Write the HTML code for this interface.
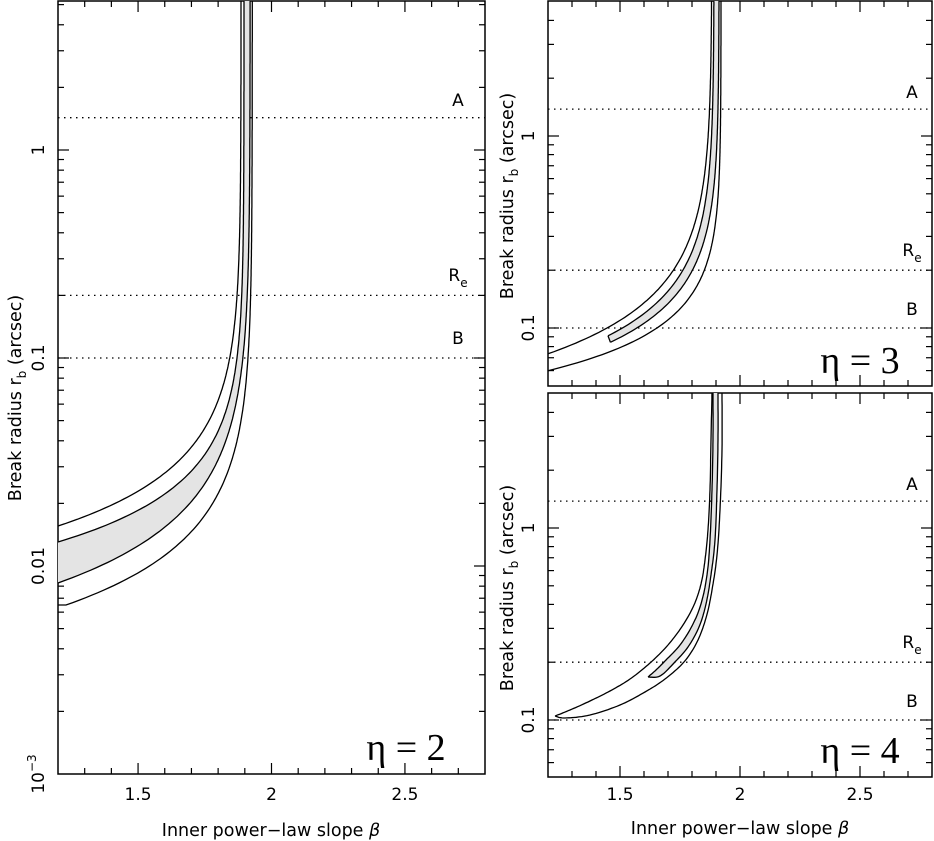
<!DOCTYPE html>
<html><head><meta charset="utf-8"><style>
html,body{margin:0;padding:0;background:#fff;}
svg{display:block;}
text{font-family:"DejaVu Sans","Liberation Sans",sans-serif;fill:#000;}
.eta{font-family:"Liberation Serif","DejaVu Serif",serif;}
</style></head><body>
<svg id="s" width="934" height="841" viewBox="0 0 934 841" xmlns="http://www.w3.org/2000/svg"></svg>
<script>
const S=document.getElementById('s');
let h='';
const panels=[
 {x0:58,x1:485,y0:1,y1:774,Y1:150,D:208},
 {x0:548,x1:932,y0:1,y1:386,Y1:136,D:192},
 {x0:548,x1:932,y0:393,y1:777,Y1:528,D:192}
];
function X(p,b){return p.x0+(b-1.2)*(p.x1-p.x0)/1.6;}
function Yr(p,r){return p.Y1-p.D*Math.log10(r);}
function curve(p,b0,b1,y1,b2,y2,start){
  const K=(y1-y2)/Math.log10((b0-b1)/(b0-b2));
  const pts=[];
  const n=300;
  for(let i=0;i<=n;i++){
    const t=i/n;
    const d=(b0-start)*Math.pow(1e-5/(b0-start),t);
    const b=b0-d;
    let y=y2+K*Math.log10(d/(b0-b2));
    if(y<p.y0){pts.push([X(p,b0),p.y0]);break;}
    pts.push([X(p,b),y]);
  }
  return pts;
}
function smooth(pts){
  const out=[];
  for(let i=0;i<pts.length-1;i++){
    const p0=pts[Math.max(0,i-1)],p1=pts[i],p2=pts[i+1],p3=pts[Math.min(pts.length-1,i+2)];
    for(let j=0;j<10;j++){const t=j/10,t2=t*t,t3=t2*t;
      const f=(a,b,c,d)=>0.5*((2*b)+(-a+c)*t+(2*a-5*b+4*c-d)*t2+(-a+3*b-3*c+d)*t3);
      out.push([f(p0[0],p1[0],p2[0],p3[0]),f(p0[1],p1[1],p2[1],p3[1])]);}
  }
  out.push(pts[pts.length-1]);return out;
}
function pstr(pts){return pts.map(q=>q[0].toFixed(1)+','+q[1].toFixed(1)).join(' ');}
function line(pts){h+=`<polyline points="${pstr(pts)}" fill="none" stroke="#000" stroke-width="1.3"/>`;}
function fill(a,b){h+=`<polygon points="${pstr(a.concat(b.slice().reverse()))}" fill="#e4e4e4" stroke="none"/>`;}
function frame(p,lo,hi){
  h+=`<rect x="${p.x0}" y="${p.y0}" width="${p.x1-p.x0}" height="${p.y1-p.y0}" fill="none" stroke="#000" stroke-width="1.5"/>`;
  for(let i=1;i<16;i++){const b=1.2+i*0.1;const x=X(p,b);const L=(i==3||i==8||i==13)?11:6;
    h+=`<line x1="${x}" y1="${p.y1}" x2="${x}" y2="${p.y1-L}" stroke="#000" stroke-width="1.2"/><line x1="${x}" y1="${p.y0}" x2="${x}" y2="${p.y0+L}" stroke="#000" stroke-width="1.2"/>`;}
  for(let e=lo;e<=hi;e++){for(let m=1;m<=9;m++){const y=Yr(p,m*Math.pow(10,e));if(y<p.y0+1||y>p.y1-1)continue;const L=m==1?11:6;
    h+=`<line x1="${p.x0}" y1="${y}" x2="${p.x0+L}" y2="${y}" stroke="#000" stroke-width="1.2"/><line x1="${p.x1}" y1="${y}" x2="${p.x1-L}" y2="${y}" stroke="#000" stroke-width="1.2"/>`;}}
}
function dotted(p,r){const y=Yr(p,r);h+=`<line x1="${p.x0}" y1="${y}" x2="${p.x1}" y2="${y}" stroke="#000" stroke-width="1.3" stroke-dasharray="1.5 4.5"/>`;}
function rot(x,y,t,fs){h+=`<text x="${x}" y="${y}" font-size="${fs}" text-anchor="middle" transform="rotate(-90 ${x} ${y})">${t}</text>`;}

let p=panels[0];
frame(p,-3,0);
dotted(p,1.43);dotted(p,0.2);dotted(p,0.1);
let it=curve(p,1.897,1.2,542,1.871,357,1.2), ib=curve(p,1.92,1.2,583,1.893,357,1.2);
fill(it,ib);
line(curve(p,1.886,1.2,526,1.844,357,1.2));line(it);line(ib);
let ob=curve(p,1.928,1.23,605,1.912,357,1.23);ob.unshift([58,605]);line(ob);

p=panels[1];
frame(p,-2,0);
dotted(p,1.38);dotted(p,0.2);dotted(p,0.1);
it=curve(p,1.892,1.51,328,1.76,271,1.45);ib=curve(p,1.913,1.57,328,1.80,271,1.46);
fill(it,ib);line(it);line(ib);
h+=`<line x1="${it[0][0]}" y1="${it[0][1]}" x2="${ib[0][0]}" y2="${ib[0][1]}" stroke="#000" stroke-width="1.3"/>`;
line(curve(p,1.883,1.446,328,1.72,271,1.2));
line(curve(p,1.921,1.654,328,1.85,271,1.2));

p=panels[2];
frame(p,-2,0);
dotted(p,1.38);dotted(p,0.2);dotted(p,0.1);
const ot=smooth([[555,716],[570,710],[590,701],[610,691],[630,679],[650,663],[668,645],[683,625],[694,605],[701,584],[705,560],[708,530],[710,490],[711,440],[712,393]]);
const obb=smooth([[555,716],[565,718],[590,715],[620,705],[645,692],[665,679],[684,662],[697,642],[706,618],[712,590],[717,555],[720,510],[722,450],[722,393]]);
const it3=smooth([[648,677],[656,670],[666,660],[680,645],[692,626],[701,604],[707,575],[710,540],[712,490],[713,440],[713,393]]);
const ib3=smooth([[648,677],[660,676],[674,663],[688,647],[699,627],[706,604],[711,575],[715,540],[717,490],[718,440],[718,393]]);
fill(it3,ib3);line(ot);line(obb);line(it3);line(ib3);

const L1=[[458,100,'A'],[458,275,'R'],[458,338,'B'],[912,92,'A'],[912,250,'R'],[912,309,'B'],[912,484,'A'],[912,642,'R'],[912,701,'B']];
for(const [x,y,t] of L1){h+=`<text x="${x}" y="${y+6}" font-size="17" text-anchor="middle">${t}${t=='R'?'<tspan font-size="12" dy="6">e</tspan>':''}</text>`;}
for(const q of [panels[0],panels[2]]){for(const b of [1.5,2,2.5]){h+=`<text x="${X(q,b)}" y="800" font-size="17" text-anchor="middle">${b}</text>`;}}
h+=`<text x="271" y="836" font-size="17.5" text-anchor="middle">Inner power−law slope <tspan font-style="italic">β</tspan></text>`;
h+=`<text x="740" y="834" font-size="17.5" text-anchor="middle">Inner power−law slope <tspan font-style="italic">β</tspan></text>`;
rot(44,150,'1',17);rot(44,358,'0.1',17);rot(44,566,'0.01',17);
h+=`<text x="44" y="774" font-size="17" text-anchor="middle" transform="rotate(-90 44 774)">10<tspan font-size="12" dy="-8">−3</tspan></text>`;
rot(534,136,'1',17);rot(534,328,'0.1',17);rot(534,528,'1',17);rot(534,720,'0.1',17);
function ylab(x,y){h+=`<text x="${x}" y="${y}" font-size="17.5" text-anchor="middle" transform="rotate(-90 ${x} ${y})">Break radius r<tspan font-size="12" dy="5">b</tspan><tspan dy="-5"> (arcsec)</tspan></text>`;}
ylab(21,398);ylab(513,196);ylab(513,588);
h+=`<text class="eta" x="406" y="760" font-size="38" text-anchor="middle">η = 2</text>`;
h+=`<text class="eta" x="860" y="373" font-size="38" text-anchor="middle">η = 3</text>`;
h+=`<text class="eta" x="860" y="763" font-size="38" text-anchor="middle">η = 4</text>`;
S.innerHTML=h;
</script>
</body></html>
